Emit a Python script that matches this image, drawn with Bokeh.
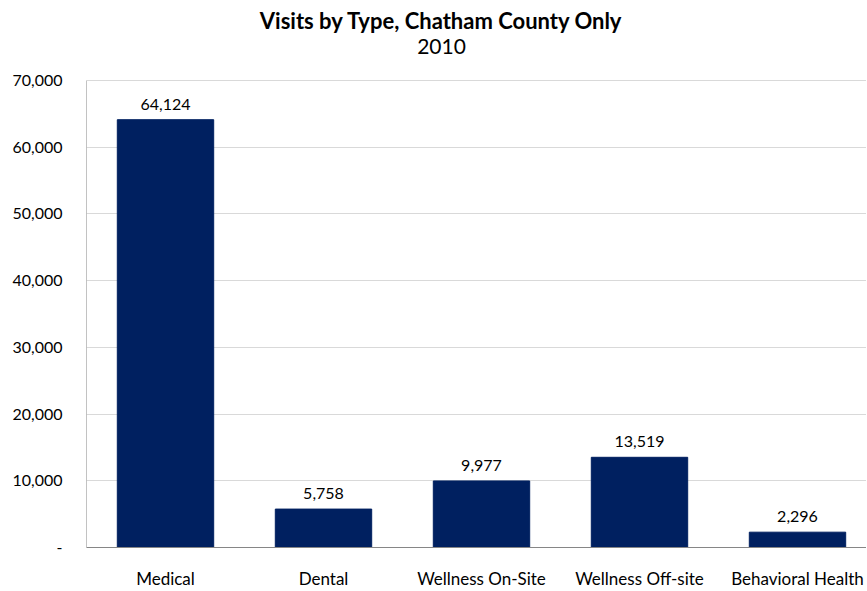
from bokeh.plotting import figure
from bokeh.models import Range1d, FixedTicker, NumeralTickFormatter, ColumnDataSource
from bokeh.core.properties import value
from bokeh.embed import file_html
from bokeh.resources import INLINE

categories = ["Medical", "Dental", "Wellness On-Site", "Wellness Off-site", "Behavioral Health"]
visits = [64124, 5758, 9977, 13519, 2296]
y_ticks = [0, 10000, 20000, 30000, 40000, 50000, 60000, 70000]
title_text = "Visits by Type, Chatham County Only"
subtitle_text = "2010"

FONT = "Lato"
# layout geometry (pixels)
FRAME_BOTTOM_PX = 547
AXIS_TOP_PX = 80
X_PER_CAT_PX = 158
FRAME_LEFT_PX = 86
TITLE_CX_PX = 441
TITLE_Y_PX = 20
SUB_Y_PX = 46

y_max = y_ticks[-1]
per_px = y_max / (FRAME_BOTTOM_PX - AXIS_TOP_PX)
y_top = FRAME_BOTTOM_PX * per_px

x = [i + 0.5 for i in range(len(categories))]
labels = [f"{v:,}" for v in visits]
src = ColumnDataSource(dict(x=x, top=visits, label=labels))

p = figure(width=866, height=591, output_backend="svg", toolbar_location=None,
           x_range=Range1d(0, 780 / X_PER_CAT_PX), y_range=Range1d(0, y_top),
           min_border_left=FRAME_LEFT_PX, min_border_right=0, min_border_top=0,
           min_border_bottom=42)

p.vbar(x="x", top="top", width=0.61, bottom=0, source=src, color="#002060")
p.text(x="x", y="top", text="label", source=src, y_offset=-10,
       text_align="center", text_baseline="bottom",
       text_font=value(FONT), text_font_size="16px", text_color="#000000")

# left axis line only up to the last tick
p.segment(x0=[0], y0=[0], x1=[0], y1=[y_max], line_color="#868686", line_width=1)

tx = (TITLE_CX_PX - FRAME_LEFT_PX) / X_PER_CAT_PX
p.text(x=[tx], y=[(FRAME_BOTTOM_PX - TITLE_Y_PX) * per_px], text=[title_text],
       text_align="center", text_baseline="middle", text_font=value(FONT),
       text_font_size="22px", text_font_style="bold", text_color="#000000")
p.text(x=[tx], y=[(FRAME_BOTTOM_PX - SUB_Y_PX) * per_px], text=[subtitle_text],
       text_align="center", text_baseline="middle", text_font=value(FONT),
       text_font_size="21px", text_font_style="normal", text_color="#000000")

p.outline_line_color = None
p.xgrid.grid_line_color = None
p.ygrid.grid_line_color = "#d9d9d9"
p.ygrid.ticker = FixedTicker(ticks=y_ticks)

p.yaxis.ticker = FixedTicker(ticks=y_ticks)
p.yaxis.formatter = NumeralTickFormatter(format="0,0")
p.yaxis.major_label_overrides = {0: "-"}
p.yaxis.axis_line_color = None
p.xaxis.ticker = FixedTicker(ticks=x)
p.xaxis.major_label_overrides = {xi: c for xi, c in zip(x, categories)}
p.xaxis.axis_line_color = "#868686"

for ax in (p.xaxis[0], p.yaxis[0]):
    ax.major_tick_line_color = None
    ax.minor_tick_line_color = None
    ax.major_tick_out = 0
    ax.major_tick_in = 0
    ax.major_label_text_font = FONT
    ax.major_label_text_color = "#000000"
p.yaxis.major_label_text_font_size = "16px"
p.xaxis.major_label_text_font_size = "17px"
p.yaxis.major_label_standoff = 24
p.xaxis.major_label_standoff = 20

open("out.html", "w").write(file_html(p, INLINE))
